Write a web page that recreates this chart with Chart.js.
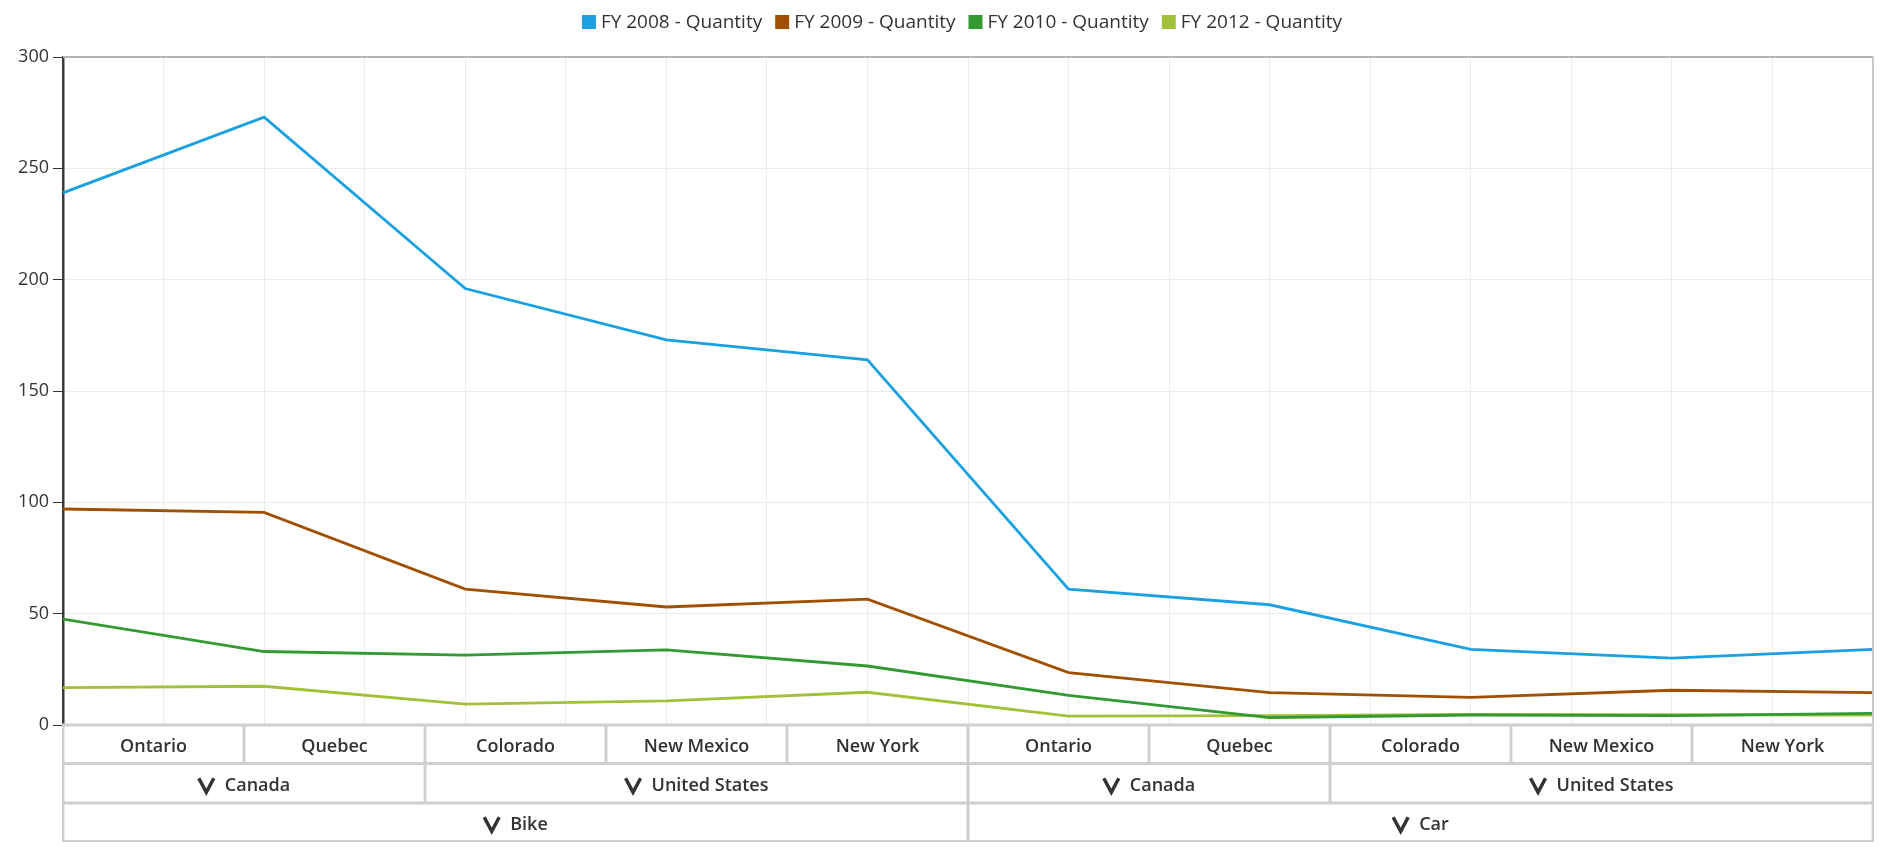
<!DOCTYPE html>
<html>
<head>
<meta charset="utf-8">
<script src="https://cdn.jsdelivr.net/npm/chart.js@4.4.1/dist/chart.umd.min.js"></script>
<style>
  html, body { margin: 0; padding: 0; background: #ffffff; }
  #wrap { width: 1889px; height: 856px; position: relative; }
</style>
</head>
<body>
<div id="wrap"><canvas id="c" width="1889" height="856"></canvas></div>
<script>
// ---- data ----
const states = ['Ontario', 'Quebec', 'Colorado', 'New Mexico', 'New York',
                'Ontario', 'Quebec', 'Colorado', 'New Mexico', 'New York'];
const countries = ['Canada', 'Canada', 'United States', 'United States', 'United States',
                   'Canada', 'Canada', 'United States', 'United States', 'United States'];
const vehicles = ['Bike', 'Bike', 'Bike', 'Bike', 'Bike',
                  'Car', 'Car', 'Car', 'Car', 'Car'];
const seriesNames = ['FY 2008 - Quantity', 'FY 2009 - Quantity', 'FY 2010 - Quantity', 'FY 2012 - Quantity'];
const fy2008 = [239, 273, 196, 173, 164, 61, 54, 34, 30, 34];
const fy2009 = [97, 95.5, 61, 53, 56.5, 23.5, 14.5, 12.4, 15.6, 14.5];
const fy2010 = [47.6, 33, 31.4, 33.7, 26.5, 13.3, 3.3, 4.5, 4.2, 5.2];
const fy2012 = [16.8, 17.4, 9.4, 10.8, 14.7, 4.0, 4.2, 4.8, 4.6, 4.5];
const yTicks = [0, 50, 100, 150, 200, 250, 300];

const colors = ['#1ba1e2', '#a05000', '#339933', '#a2c139'];
const FONT = '"Open Sans", "Noto Sans", sans-serif';
const TEXT = '#333333';

const seriesValues = [fy2008, fy2009, fy2010, fy2012];
const datasets = seriesValues.map((vals, k) => ({
  label: seriesNames[k],
  data: vals.map((v, i) => ({ x: i, y: v })),
  borderColor: colors[k],
  backgroundColor: colors[k],
  borderWidth: 2.8,
  pointRadius: 0,
  pointHoverRadius: 0,
  tension: 0,
  fill: false
}));

function groupsOf(arr) {
  const out = [];
  arr.forEach((v, i) => {
    const last = out[out.length - 1];
    if (last && last.label === v) last.end = i;
    else out.push({ label: v, start: i, end: i });
  });
  return out;
}

const frameAndHeader = {
  id: 'frameAndHeader',
  afterDraw(chart) {
    const ctx = chart.ctx;
    const a = chart.chartArea;
    const sc = chart.scales.xCat;
    ctx.save();

    // legend
    ctx.font = '19px ' + FONT;
    ctx.textBaseline = 'middle';
    ctx.textAlign = 'left';
    const box = 14, boxGap = 5, itemGap = 13;
    const widths = chart.data.datasets.map(d => ctx.measureText(d.label).width);
    const total = widths.reduce((s, w) => s + box + boxGap + w, 0) + itemGap * (widths.length - 1);
    let lx = (a.left + a.right) / 2 - total / 2 - 6;
    const ly = 22;
    chart.data.datasets.forEach((d, k) => {
      ctx.fillStyle = d.borderColor;
      ctx.fillRect(lx, ly - box / 2, box, box);
      ctx.fillStyle = TEXT;
      ctx.fillText(d.label, lx + box + boxGap, ly + 1);
      lx += box + boxGap + widths[k] + itemGap;
    });

    // frame top & right
    ctx.strokeStyle = '#b4b4b4';
    ctx.lineWidth = 2;
    ctx.beginPath();
    ctx.moveTo(a.left, a.top);
    ctx.lineTo(a.right, a.top);
    ctx.stroke();
    ctx.strokeStyle = '#c8c8c8';
    ctx.beginPath();
    ctx.moveTo(a.right, a.top);
    ctx.lineTo(a.right, a.bottom);
    ctx.stroke();

    // header table
    const rowsY = [a.bottom, a.bottom + 38.5, a.bottom + 78, a.bottom + 116.5];
    const half = (sc.getPixelForValue(1) - sc.getPixelForValue(0)) / 2;
    const leftOf = i => sc.getPixelForValue(i) - half;
    const rightOf = i => sc.getPixelForValue(i) + half;
    ctx.fillStyle = '#cfcfcf';
    ctx.fillRect(leftOf(0) - 1, rowsY[0] - 1.5, rightOf(states.length - 1) - leftOf(0) + 2, rowsY[3] - rowsY[0] + 2);

    const rows = [
      states.map((s, i) => ({ label: s, start: i, end: i })),
      groupsOf(countries),
      groupsOf(vehicles)
    ];
    rows.forEach((cells, r) => {
      const y0 = rowsY[r] + 1.5, y1 = rowsY[r + 1] - 1.5;
      const cy = (y0 + y1) / 2;
      cells.forEach(c => {
        const x0 = leftOf(c.start) + 1.5, x1 = rightOf(c.end) - 1.5;
        ctx.fillStyle = '#ffffff';
        ctx.fillRect(x0, y0, x1 - x0, y1 - y0);
        ctx.fillStyle = TEXT;
        ctx.font = '600 18px ' + FONT;
        ctx.textBaseline = 'middle';
        const cx = (x0 + x1) / 2;
        if (r === 0) {
          ctx.textAlign = 'center';
          ctx.fillText(c.label, cx, cy + 3);
        } else {
          const tw = ctx.measureText(c.label).width;
          const cw = 17, gap = 10;
          const sx = cx - (cw + gap + tw) / 2;
          ctx.strokeStyle = TEXT;
          ctx.lineWidth = 3.5;
          ctx.lineJoin = 'miter';
          ctx.beginPath();
          ctx.moveTo(sx + 1, cy - 5);
          ctx.lineTo(sx + cw / 2, cy + 9);
          ctx.lineTo(sx + cw - 1, cy - 5);
          ctx.stroke();
          ctx.textAlign = 'left';
          ctx.fillText(c.label, sx + cw + gap, cy + 3);
        }
      });
    });
    ctx.restore();
  }
};

new Chart(document.getElementById('c'), {
  type: 'line',
  data: { datasets },
  options: {
    responsive: false,
    animation: false,
    events: [],
    layout: { padding: { left: 0, right: 16, top: 57, bottom: 131 } },
    scales: {
      x: {
        type: 'linear',
        min: 0,
        max: states.length - 1,
        ticks: { stepSize: 0.5, display: false },
        grid: { color: '#ebebeb', lineWidth: 1, drawTicks: false },
        border: { display: false }
      },
      xCat: {
        type: 'category',
        labels: states,
        offset: true,
        display: false
      },
      y: {
        type: 'linear',
        min: yTicks[0],
        max: yTicks[yTicks.length - 1],
        afterBuildTicks: s => { s.ticks = yTicks.map(v => ({ value: v })); },
        afterFit: s => { s.width = 63; },
        ticks: { color: TEXT, font: { family: FONT, size: 18 }, padding: 4 },
        grid: { color: '#ebebeb', lineWidth: 1, tickColor: '#333333', tickLength: 10 },
        border: { display: true, color: '#3a3a3a', width: 2.5 }
      }
    },
    plugins: {
      tooltip: { enabled: false },
      legend: { display: false }
    }
  },
  plugins: [frameAndHeader]
});
</script>
</body>
</html>
